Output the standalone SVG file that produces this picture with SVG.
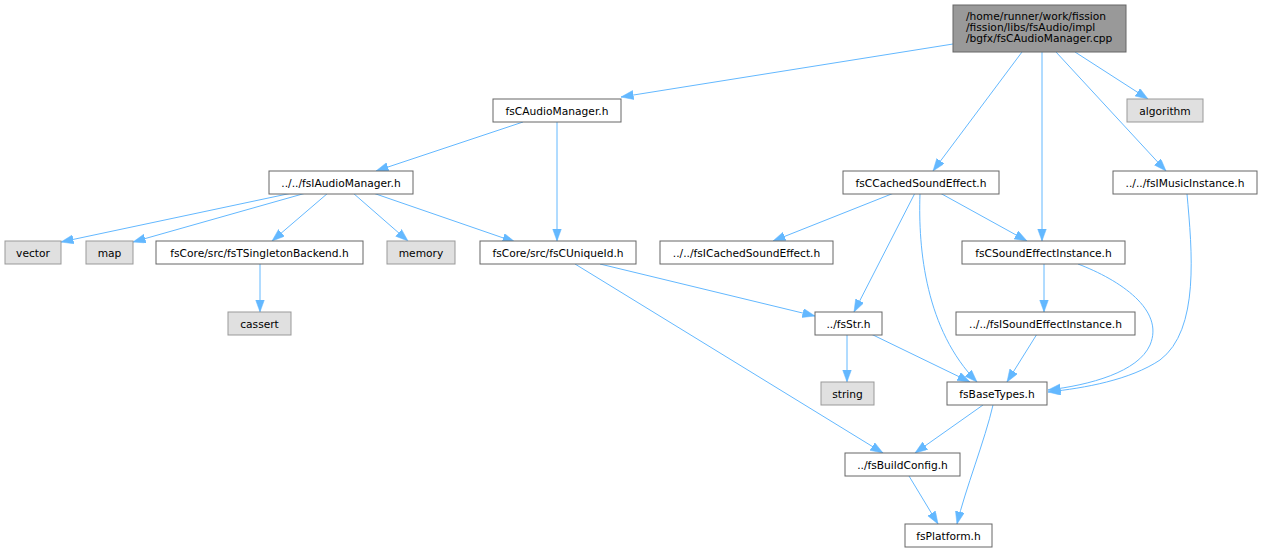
<svg xmlns="http://www.w3.org/2000/svg" width="1262" height="552" viewBox="0 0 1262 552">
<style>
.n rect{fill:#ffffff;stroke:#666666;stroke-width:1}
.g rect{fill:#e0e0e0;stroke:#999999;stroke-width:1}
.r rect{fill:#999999;stroke:#666666;stroke-width:1}
text{font-family:"DejaVu Sans",sans-serif;font-size:10.67px;fill:#000000}
.c{text-anchor:middle}
#edges path{fill:none;stroke:#63b8ff;stroke-width:1;marker-end:url(#ah)}
</style>
<defs>
<marker id="ah" markerUnits="userSpaceOnUse" markerWidth="14" markerHeight="10" refX="12.5" refY="4.5" orient="auto">
<path d="M0,0 L12.5,4.5 L0,9 z" fill="#63b8ff" stroke="#63b8ff" stroke-width="0.5"/>
</marker>
</defs>
<rect x="0" y="0" width="1262" height="552" fill="#ffffff"/>
<g id="edges">
<path d="M953,44 L621,97"/>
<path d="M1075,52 L1148,99"/>
<path d="M1056,52 L1166,171"/>
<path d="M1042,52 L1042,241"/>
<path d="M1022,52 L933,171"/>
<path d="M523,122 L376,171"/>
<path d="M557,122 L557,241"/>
<path d="M292,193 L61,242"/>
<path d="M306,193 L133,242"/>
<path d="M328,193 L272,241"/>
<path d="M353,193 L408,241"/>
<path d="M373,193 L515,242"/>
<path d="M260,264 L260,312"/>
<path d="M600,264 L815,316"/>
<path d="M575,264 L883,453"/>
<path d="M894,193 L773,241"/>
<path d="M915,193 L854,312"/>
<path d="M920,194 C918,250 926,330 977,382"/>
<path d="M940,193 L1027,241"/>
<path d="M1044,264 L1044,312"/>
<path d="M1078,264 C1120,280 1165,310 1150,345 C1138,372 1090,385 1048,390"/>
<path d="M1187,194 C1192,250 1200,330 1160,360 C1130,380 1085,388 1048,392"/>
<path d="M1037,334 L1007,382"/>
<path d="M847,334 L847,382"/>
<path d="M871,334 L970,382"/>
<path d="M983,405 L915,453"/>
<path d="M993,405 C985,440 965,490 957,524"/>
<path d="M909,476 L938,524"/>
</g>
<g id="root" class="r"><rect x="953" y="5" width="173" height="47"/>
<text x="966" y="20">/home/runner/work/fission</text>
<text x="966" y="31">/fission/libs/fsAudio/impl</text>
<text x="966" y="42">/bgfx/fsCAudioManager.cpp</text></g>
<g id="algorithm" class="g"><rect x="1127" y="99" width="76" height="23"/><text class="c" x="1165" y="114.5">algorithm</text></g>
<g id="fsCAudioManager" class="n"><rect x="493" y="99" width="128" height="23"/><text class="c" x="557" y="114.5">fsCAudioManager.h</text></g>
<g id="fsIAudioManager" class="n"><rect x="269" y="171" width="144" height="23"/><text class="c" x="341" y="186.5">../../fsIAudioManager.h</text></g>
<g id="fsCCachedSoundEffect" class="n"><rect x="843" y="171" width="156" height="23"/><text class="c" x="921" y="186.5">fsCCachedSoundEffect.h</text></g>
<g id="fsIMusicInstance" class="n"><rect x="1113" y="171" width="144" height="23"/><text class="c" x="1185" y="186.5">../../fsIMusicInstance.h</text></g>
<g id="vector" class="g"><rect x="5" y="241" width="56" height="23"/><text class="c" x="33" y="256.5">vector</text></g>
<g id="map" class="g"><rect x="86" y="241" width="47" height="23"/><text class="c" x="109.5" y="256.5">map</text></g>
<g id="fsTSingletonBackend" class="n"><rect x="156" y="241" width="207" height="23"/><text class="c" x="259.5" y="256.5">fsCore/src/fsTSingletonBackend.h</text></g>
<g id="memory" class="g"><rect x="387" y="241" width="68" height="23"/><text class="c" x="421" y="256.5">memory</text></g>
<g id="fsCUniqueId" class="n"><rect x="480" y="241" width="156" height="23"/><text class="c" x="558" y="256.5">fsCore/src/fsCUniqueId.h</text></g>
<g id="fsICachedSoundEffect" class="n"><rect x="660" y="241" width="173" height="23"/><text class="c" x="746.5" y="256.5">../../fsICachedSoundEffect.h</text></g>
<g id="fsCSoundEffectInstance" class="n"><rect x="962" y="241" width="163" height="23"/><text class="c" x="1043.5" y="256.5">fsCSoundEffectInstance.h</text></g>
<g id="cassert" class="g"><rect x="228" y="312" width="63" height="23"/><text class="c" x="259.5" y="327.5">cassert</text></g>
<g id="fsStr" class="n"><rect x="815" y="312" width="67" height="23"/><text class="c" x="848.5" y="327.5">../fsStr.h</text></g>
<g id="fsISoundEffectInstance" class="n"><rect x="956" y="312" width="179" height="23"/><text class="c" x="1045.5" y="327.5">../../fsISoundEffectInstance.h</text></g>
<g id="string" class="g"><rect x="821" y="382" width="53" height="23"/><text class="c" x="847.5" y="397.5">string</text></g>
<g id="fsBaseTypes" class="n"><rect x="947" y="382" width="100" height="23"/><text class="c" x="997" y="397.5">fsBaseTypes.h</text></g>
<g id="fsBuildConfig" class="n"><rect x="845" y="453" width="115" height="23"/><text class="c" x="902.5" y="468.5">../fsBuildConfig.h</text></g>
<g id="fsPlatform" class="n"><rect x="905" y="524" width="87" height="23"/><text class="c" x="948.5" y="539.5">fsPlatform.h</text></g>
</svg>
